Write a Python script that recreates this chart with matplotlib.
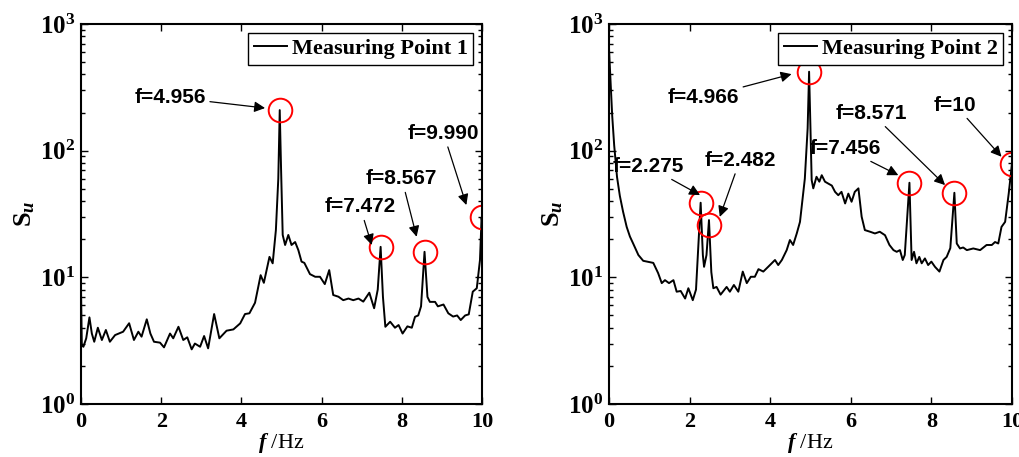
import matplotlib
matplotlib.use('Agg')
import matplotlib.pyplot as plt
import numpy as np

plt.rcParams['font.family'] = ['Liberation Serif', 'DejaVu Serif']
plt.rcParams['mathtext.fontset'] = 'custom'
plt.rcParams['mathtext.rm'] = 'Liberation Serif:bold'
plt.rcParams['mathtext.bf'] = 'Liberation Serif:bold'
plt.rcParams['mathtext.it'] = 'Liberation Serif:bold:italic'
plt.rcParams['mathtext.default'] = 'bf'

# 测点1 频谱
f1 = [0.0, 0.02, 0.06, 0.13, 0.21, 0.27, 0.33, 0.42, 0.52, 0.62, 0.72, 0.85, 1.05, 1.2,
      1.32, 1.43, 1.51, 1.64, 1.73, 1.82, 1.97, 2.07, 2.22, 2.3, 2.43, 2.55, 2.65, 2.76,
      2.84, 2.97, 3.07, 3.17, 3.32, 3.45, 3.63, 3.8, 3.97, 4.09, 4.2, 4.34, 4.48, 4.56,
      4.7, 4.78, 4.86, 4.92, 4.956, 4.99, 5.03, 5.09, 5.17, 5.25, 5.34, 5.42, 5.5, 5.57,
      5.71, 5.84, 5.96, 6.08, 6.19, 6.29, 6.42, 6.54, 6.67, 6.79, 6.92, 7.04, 7.19, 7.31,
      7.4, 7.472, 7.53, 7.59, 7.71, 7.83, 7.92, 8.02, 8.14, 8.25, 8.33, 8.41, 8.48, 8.567,
      8.64, 8.7, 8.83, 8.9, 9.04, 9.16, 9.28, 9.38, 9.47, 9.58, 9.67, 9.77, 9.87, 9.95,
      9.99, 10.0]
s1 = [8.0, 2.9, 2.83, 3.3, 4.83, 3.6, 3.1, 4.0, 3.2, 3.84, 3.1, 3.5, 3.72, 4.34,
      3.2, 3.72, 3.4, 4.66, 3.6, 3.1, 3.05, 2.8, 3.6, 3.3, 4.07, 3.2, 3.36, 2.7,
      3.0, 2.83, 3.44, 2.75, 5.13, 3.3, 3.79, 3.88, 4.33, 5.13, 5.2, 6.3, 10.4, 9.05,
      14.5, 12.9, 23.6, 60.0, 209.0, 70.0, 21.6, 18.0, 21.6, 18.0, 19.0, 16.4, 13.3, 13.0,
      10.6, 10.1, 10.1, 8.84, 11.4, 7.25, 7.03, 6.6, 6.8, 6.6, 6.8, 6.43, 7.56, 5.7,
      8.0, 17.4, 7.0, 4.07, 4.46, 4.0, 4.2, 3.6, 4.1, 4.0, 4.88, 5.0, 5.9, 15.9,
      7.0, 6.4, 6.4, 5.9, 6.1, 5.2, 4.9, 5.0, 4.6, 5.0, 5.1, 7.7, 8.2, 13.7,
      29.5, 28.0]

# 测点2 频谱
f2 = [0.0, 0.04, 0.08, 0.13, 0.2, 0.27, 0.35, 0.44, 0.52, 0.6, 0.73, 0.85, 1.1, 1.22,
      1.31, 1.39, 1.49, 1.6, 1.68, 1.78, 1.89, 1.97, 2.08, 2.16, 2.275, 2.33, 2.36, 2.42,
      2.482, 2.54, 2.59, 2.67, 2.77, 2.92, 3.0, 3.1, 3.21, 3.32, 3.42, 3.52, 3.62, 3.71,
      3.83, 3.95, 4.12, 4.2, 4.29, 4.41, 4.49, 4.57, 4.66, 4.74, 4.86, 4.93, 4.966, 5.0,
      5.03, 5.07, 5.15, 5.22, 5.28, 5.36, 5.44, 5.53, 5.61, 5.69, 5.77, 5.86, 5.94, 6.02,
      6.1, 6.19, 6.27, 6.35, 6.48, 6.6, 6.72, 6.85, 6.96, 7.06, 7.14, 7.22, 7.29, 7.34,
      7.456, 7.51, 7.57, 7.63, 7.7, 7.76, 7.84, 7.92, 8.0, 8.09, 8.2, 8.3, 8.38, 8.47,
      8.571, 8.63, 8.71, 8.79, 8.88, 9.04, 9.21, 9.37, 9.5, 9.58, 9.66, 9.74, 9.83, 9.92,
      10.0]
s2 = [650.0, 350.0, 190.0, 110.0, 62.0, 44.0, 33.0, 25.0, 21.0, 18.5, 15.0, 13.5, 13.0, 10.8,
      9.0, 9.5, 9.0, 9.5, 7.7, 7.8, 6.8, 8.2, 6.6, 8.0, 38.8, 15.0, 12.1, 15.0,
      28.3, 11.0, 8.2, 8.4, 7.3, 8.4, 7.7, 8.7, 7.7, 11.1, 9.0, 10.1, 10.1, 11.6,
      11.1, 12.1, 13.7, 12.5, 13.7, 16.4, 19.7, 18.0, 22.2, 27.4, 60.0, 150.0, 420.0, 150.0,
      58.6, 50.4, 62.2, 56.9, 64.0, 56.9, 55.0, 53.0, 47.3, 44.5, 47.3, 38.3, 45.8, 39.5,
      47.3, 50.4, 30.1, 23.6, 22.9, 22.2, 22.9, 21.5, 18.0, 16.4, 15.9, 16.4, 13.7, 15.0,
      55.8, 13.7, 15.9, 12.9, 14.5, 12.9, 14.1, 12.5, 13.3, 12.1, 11.1, 13.7, 14.5, 17.0,
      46.5, 18.5, 16.9, 17.2, 16.4, 16.9, 16.4, 18.0, 18.0, 19.0, 18.5, 25.0, 27.4, 46.0,
      79.0]

# 峰值标注: (峰频率, 峰值, 文字, 文字位置x, 文字位置y, 箭头x, 箭头y)
peaks1 = [(4.956, 209.0, 'f=4.956', 2.22, 265, 4.59, 217),
          (7.472, 17.4, 'f=7.472', 6.96, 36, 7.25, 18.0),
          (8.567, 15.9, 'f=8.567', 8.0, 60, 8.37, 20.9),
          (9.99, 30.0, 'f=9.990', 9.04, 137, 9.61, 37.2)]
peaks2 = [(4.966, 420.0, 'f=4.966', 2.34, 263, 4.53, 402),
          (2.275, 38.8, 'f=2.275', 0.975, 75, 2.26, 44.6),
          (2.482, 26.0, 'f=2.482', 3.25, 84, 2.75, 30),
          (7.456, 55.8, 'f=7.456', 5.86, 104, 7.18, 64),
          (8.571, 46.5, 'f=8.571', 6.52, 197, 8.34, 53.5),
          (10.0, 79.0, 'f=10', 8.59, 229, 9.74, 89.5)]

fig = plt.figure(figsize=(10.19, 4.57), dpi=100)
ax1 = fig.add_axes([0.0795, 0.116, 0.3935, 0.8315])
ax2 = fig.add_axes([0.5976, 0.116, 0.3955, 0.8315])

for ax, f, s, peaks, name in [(ax1, f1, s1, peaks1, 'Measuring Point 1'),
                              (ax2, f2, s2, peaks2, 'Measuring Point 2')]:
    ax.semilogy(f, s, color='black', linewidth=1.4, label=name)
    for pf, ps, txt, tx, ty, ax_, ay in peaks:
        ax.plot(pf, ps, 'o', markersize=17, markerfacecolor='none',
                markeredgecolor='red', markeredgewidth=1.4)
        ax.annotate(txt, xy=(ax_, ay), xytext=(tx, ty), ha='center', va='center',
                    fontsize=15, fontweight='bold', family='Liberation Sans',
                    arrowprops=dict(arrowstyle='-|>', color='black', lw=0.9,
                                    mutation_scale=16, shrinkA=1, shrinkB=0))
    ax.set_xlim(0, 10)
    ax.set_ylim(1, 1000)
    ax.set_xticks([0, 2, 4, 6, 8, 10])
    ax.set_xticklabels(['0', '2', '4', '6', '8', '10'])
    ax.set_yticks([1, 10, 100, 1000])
    ax.set_yticklabels([r'$10^{0}$', r'$10^{1}$', r'$10^{2}$', r'$10^{3}$'])
    ax.tick_params(which='both', direction='in', top=True, right=True, width=1.0)
    ax.tick_params(which='major', length=5, pad=6)
    ax.tick_params(which='minor', length=3)
    ax.tick_params(axis='x', labelsize=16)
    ax.tick_params(axis='y', labelsize=18, pad=4)
    for lab in ax.get_xticklabels():
        lab.set_fontweight('bold')
    for sp in ax.spines.values():
        sp.set_linewidth(1.5)
    ax.set_xlabel(r'$\mathit{f}$ /Hz', fontsize=16, labelpad=-1)
    ax.set_ylabel(r'$\mathrm{S}_{\mathit{u}}$', fontsize=19, labelpad=2)
    leg = ax.legend(loc='upper right', fancybox=False, framealpha=1,
                    edgecolor='black', handlelength=1.5, handletextpad=0.2,
                    borderpad=0.25, borderaxespad=0.4,
                    prop={'family': 'Liberation Serif', 'weight': 'bold', 'size': 16})
    leg.get_frame().set_linewidth(1.0)

fig.savefig('out.png', dpi=100)
